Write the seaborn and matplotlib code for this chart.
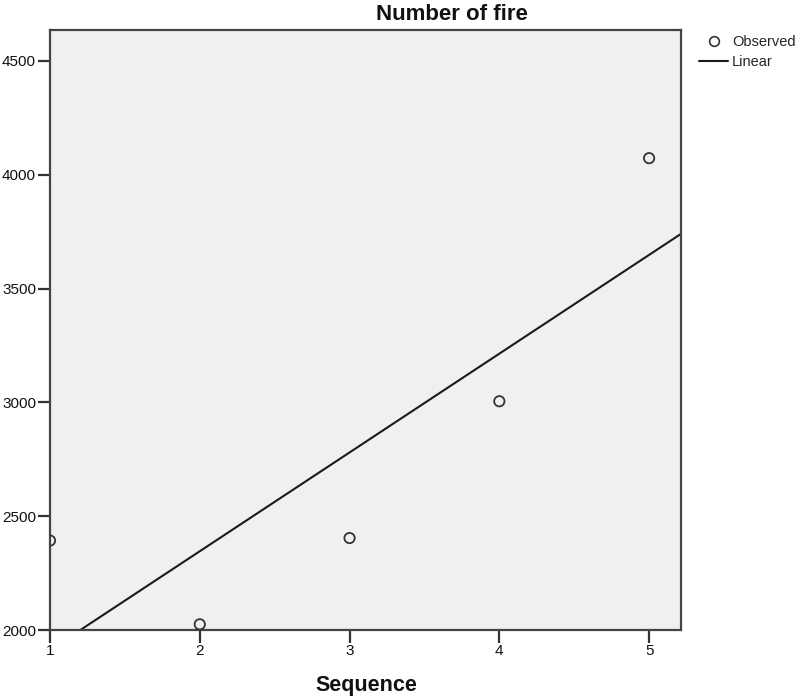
import numpy as np
import pandas as pd
import matplotlib
matplotlib.use("Agg")
import matplotlib.pyplot as plt
import seaborn as sns
from matplotlib.lines import Line2D

# Observed fire counts by sequence number
sequence = [1, 2, 3, 4, 5]
fires = [2393, 2025, 2404, 3005, 4073]
x_ticks = [1, 2, 3, 4, 5]
y_ticks = [2000, 2500, 3000, 3500, 4000, 4500]

sns.set_theme(style="white")
plt.rcParams["font.family"] = ["Liberation Sans", "DejaVu Sans"]

df = pd.DataFrame({"Sequence": sequence, "Number of fire": fires})

# Ordinary least-squares linear fit
slope, intercept = np.polyfit(df["Sequence"], df["Number of fire"], 1)
x_min, x_max = 1.0, 5.213
y_min, y_max = 2000, 4636
fit_x = np.linspace(x_min, x_max, 200)
fit_df = pd.DataFrame({"x": fit_x, "y": intercept + slope * fit_x})

fig = plt.figure(figsize=(8.01, 6.97), dpi=100)
ax = fig.add_axes([50 / 801, 1 - 630 / 697, 631 / 801, 600 / 697])
ax.set_facecolor("#f0f0f0")

sns.lineplot(data=fit_df, x="x", y="y", ax=ax, color="#1a1a1a", linewidth=1.5)
sns.scatterplot(data=df, x="Sequence", y="Number of fire", ax=ax,
                marker="o", s=55, facecolor="none", edgecolor="#333333",
                linewidth=1.3, zorder=3, clip_on=True)

ax.set_xlim(x_min, x_max)
ax.set_ylim(y_min, y_max)
ax.set_xticks(x_ticks)
ax.set_yticks(y_ticks)
ax.set_xlabel("")
ax.set_ylabel("")
for s in ax.spines.values():
    s.set_visible(True)
    s.set_color("#444444")
    s.set_linewidth(1.6)
ax.tick_params(axis="both", direction="out", length=9, width=1.6,
               color="#333333", labelsize=11, labelcolor="#111111", pad=1,
               bottom=True, left=True)

fig.text(452 / 801, 1 - 14 / 697, "Number of fire", ha="center", va="center",
         fontsize=16, fontweight="bold", color="#111111")
fig.text(366 / 801, 1 - 685 / 697, "Sequence", ha="center", va="center",
         fontsize=15.5, fontweight="bold", color="#111111")

handles = [
    Line2D([], [], linestyle="none", marker="o", markersize=7,
           markerfacecolor="none", markeredgecolor="#333333", markeredgewidth=1.2),
    Line2D([], [], color="#1a1a1a", linewidth=1.5),
]
fig.legend(handles, ["Observed", "Linear"], loc="upper left",
           bbox_to_anchor=(699 / 801, 1 - 35 / 697), frameon=False,
           fontsize=10.5, handlelength=2.0, handletextpad=0.25,
           labelspacing=0.4, borderpad=0, borderaxespad=0)

fig.savefig("out.png", dpi=100)
